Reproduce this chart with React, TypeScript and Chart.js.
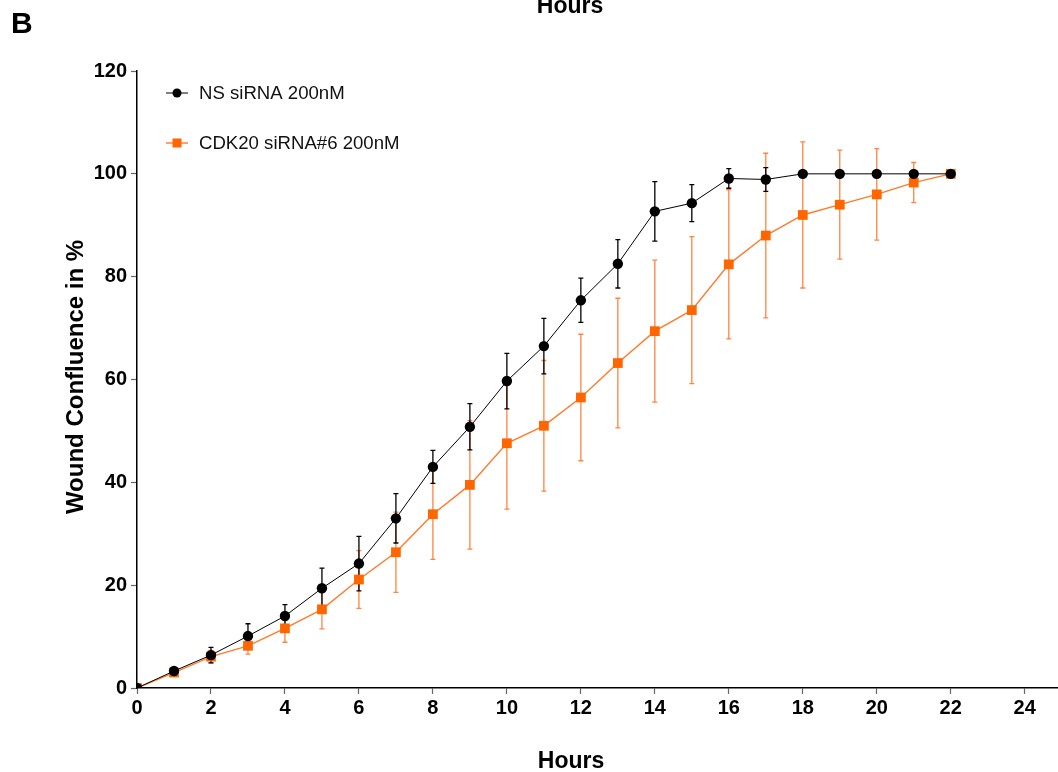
import React, { useEffect, useRef } from "react";
import { Chart, registerables } from "chart.js";

Chart.register(...registerables);

const hours = [0, 1, 2, 3, 4, 5, 6, 7, 8, 9, 10, 11, 12, 13, 14, 15, 16, 17, 18, 19, 20, 21, 22];
const nsMean = [0, 3.3, 6.4, 10.1, 14.0, 19.4, 24.2, 33.0, 43.0, 50.8, 59.7, 66.5, 75.4, 82.5, 92.7, 94.3, 99.1, 98.9, 100, 100, 100, 100, 100];
const nsSD = [0, 0.4, 1.5, 2.4, 2.2, 3.9, 5.3, 4.8, 3.2, 4.5, 5.4, 5.4, 4.3, 4.7, 5.8, 3.6, 1.9, 2.3, 0, 0, 0, 0, 0];
const cdkMean = [0, 3.0, 6.1, 8.2, 11.6, 15.3, 21.1, 26.4, 33.8, 39.5, 47.6, 51.0, 56.5, 63.2, 69.4, 73.5, 82.4, 88.0, 92.0, 94.0, 96.0, 98.3, 100];
const cdkSD = [0, 0.4, 1.2, 1.6, 2.7, 3.8, 5.6, 7.8, 8.8, 12.5, 12.8, 12.7, 12.3, 12.6, 13.8, 14.3, 14.5, 16.0, 14.2, 10.6, 8.9, 3.9, 0];
const xTicks = [0, 2, 4, 6, 8, 10, 12, 14, 16, 18, 20, 22, 24];
const yTicks = [0, 20, 40, 60, 80, 100, 120];
const seriesLabels = ["NS siRNA 200nM", "CDK20 siRNA#6 200nM"];
const xTitle = "Hours";
const yTitle = "Wound Confluence in %";
const panelLabel = "B";

const FONT = "Arial, 'Liberation Sans', Helvetica, sans-serif";
const BLACK = "#000000";
const ORANGE = "#ff6600";
const ORANGE_LINE = "#ff7a2a";
const ORANGE_ERR = "rgba(255,110,30,0.85)";

export default function App() {
  const ref = useRef<HTMLCanvasElement | null>(null);

  useEffect(() => {
    const canvas = ref.current;
    if (!canvas) return;

    const errorBars = {
      id: "errorBars",
      beforeDatasetsDraw(chart: any) {
        const ctx = chart.ctx;
        const xs = chart.scales.x;
        const ys = chart.scales.y;
        const sets = [
          { mean: cdkMean, sd: cdkSD, color: ORANGE_ERR },
          { mean: nsMean, sd: nsSD, color: BLACK },
        ];
        ctx.save();
        ctx.lineWidth = 1.3;
        for (const s of sets) {
          ctx.strokeStyle = s.color;
          hours.forEach((h, i) => {
            if (!s.sd[i]) return;
            const x = xs.getPixelForValue(h);
            const yt = ys.getPixelForValue(s.mean[i] + s.sd[i]);
            const yb = ys.getPixelForValue(s.mean[i] - s.sd[i]);
            ctx.beginPath();
            ctx.moveTo(x, yt);
            ctx.lineTo(x, yb);
            ctx.moveTo(x - 2.5, yt);
            ctx.lineTo(x + 2.5, yt);
            ctx.moveTo(x - 2.5, yb);
            ctx.lineTo(x + 2.5, yb);
            ctx.stroke();
          });
        }
        ctx.restore();
      },
    };

    const extras = {
      id: "extras",
      afterDraw(chart: any) {
        const ctx = chart.ctx;
        ctx.save();
        // panel label
        ctx.fillStyle = "#000";
        ctx.font = `bold 30px ${FONT}`;
        ctx.textAlign = "left";
        ctx.textBaseline = "alphabetic";
        ctx.fillText(panelLabel, 11, 33);
        // cut-off title from previous panel
        ctx.font = `bold 23px ${FONT}`;
        ctx.textAlign = "center";
        ctx.fillText(xTitle, 570, 13);
        // x axis title
        ctx.fillText(xTitle, 571, 768);
        // y axis title
        ctx.save();
        ctx.translate(83, 377);
        ctx.rotate(-Math.PI / 2);
        ctx.font = `bold 24px ${FONT}`;
        ctx.textAlign = "center";
        ctx.textBaseline = "alphabetic";
        ctx.fillText(yTitle, 0, 0);
        ctx.restore();
        // legend
        const items = [
          { y: 93, color: BLACK, line: BLACK, shape: "circle" },
          { y: 143, color: ORANGE, line: ORANGE_LINE, shape: "rect" },
        ];
        items.forEach((it, i) => {
          ctx.strokeStyle = it.line;
          ctx.lineWidth = i === 0 ? 1 : 1.4;
          ctx.beginPath();
          ctx.moveTo(166, it.y);
          ctx.lineTo(188, it.y);
          ctx.stroke();
          ctx.fillStyle = it.color;
          if (it.shape === "circle") {
            ctx.beginPath();
            ctx.arc(177, it.y, 4.5, 0, Math.PI * 2);
            ctx.fill();
          } else {
            ctx.fillRect(172.5, it.y - 4.5, 9, 9);
          }
          ctx.fillStyle = "#111";
          ctx.font = `18.6px ${FONT}`;
          ctx.textAlign = "left";
          ctx.textBaseline = "middle";
          ctx.fillText(seriesLabels[i], 199, it.y + 1);
        });
        ctx.restore();
      },
    };

    const chart = new Chart(canvas, {
      type: "line",
      data: {
        datasets: [
          {
            label: seriesLabels[0],
            data: hours.map((h, i) => ({ x: h, y: nsMean[i] })),
            borderColor: BLACK,
            backgroundColor: BLACK,
            borderWidth: 1,
            pointStyle: "circle",
            pointRadius: 5.2,
            pointBorderWidth: 0,
            pointBackgroundColor: BLACK,
          },
          {
            label: seriesLabels[1],
            data: hours.map((h, i) => ({ x: h, y: cdkMean[i] })),
            borderColor: ORANGE_LINE,
            backgroundColor: ORANGE,
            borderWidth: 1.4,
            pointStyle: "rect",
            pointRadius: 6.9,
            pointBorderWidth: 0,
            pointBackgroundColor: ORANGE,
          },
        ],
      },
      options: {
        animation: false,
        responsive: false,
        maintainAspectRatio: false,
        layout: { autoPadding: false, padding: { left: 0, right: 0, top: 71, bottom: 0 } },
        plugins: {
          legend: { display: false },
          tooltip: { enabled: false },
          title: { display: false },
        },
        scales: {
          x: {
            type: "linear",
            min: 0,
            max: 24.9,
            afterBuildTicks: (s: any) => {
              s.ticks = xTicks.map((v) => ({ value: v }));
            },
            afterFit: (s: any) => {
              s.height = 84;
              s.paddingRight = 0;
              s.paddingLeft = 0;
            },
            ticks: {
              color: "#000",
              font: { family: FONT, size: 20, weight: "bold" },
              padding: 2,
              maxRotation: 0,
              autoSkip: false,
            },
            grid: {
              display: true,
              drawOnChartArea: false,
              drawTicks: true,
              tickLength: 6,
              tickColor: "#666",
              tickWidth: 1.2,
            },
            border: { display: true, color: "#000", width: 1.5 },
          },
          y: {
            type: "linear",
            min: 0,
            max: 120,
            afterBuildTicks: (s: any) => {
              s.ticks = yTicks.map((v) => ({ value: v }));
            },
            afterFit: (s: any) => {
              s.width = 137;
            },
            ticks: {
              color: "#000",
              font: { family: FONT, size: 20, weight: "bold" },
              padding: 4,
              autoSkip: false,
            },
            grid: {
              display: true,
              drawOnChartArea: false,
              drawTicks: true,
              tickLength: 6,
              tickColor: "#666",
              tickWidth: 1.2,
            },
            border: { display: true, color: "#000", width: 1.5 },
          },
        },
      },
      plugins: [errorBars, extras],
    } as any);

    return () => chart.destroy();
  }, []);

  return (
    <div style={{ position: "fixed", left: 0, top: 0, width: 1058, height: 772, background: "#fff" }}>
      <canvas ref={ref} width={1058} height={772} style={{ display: "block", width: 1058, height: 772 }} />
    </div>
  );
}
